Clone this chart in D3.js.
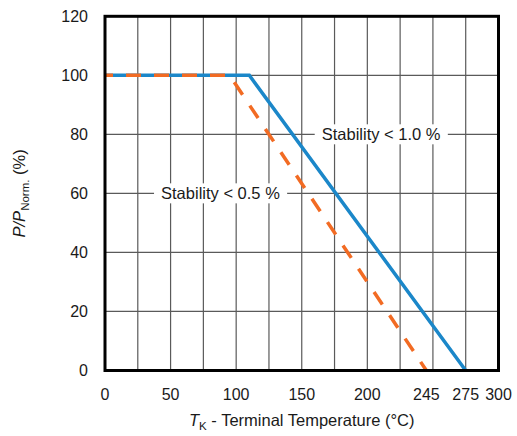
<!DOCTYPE html>
<html>
<head>
<meta charset="utf-8">
<script src="https://cdn.jsdelivr.net/npm/d3@7"></script>
<style>
  body { margin: 0; background: #fff; }
  svg text { font-family: "Liberation Sans", Arial, sans-serif; fill: #1a1a1a; }
</style>
</head>
<body>
<script>
// data
const tempTicks = [0, 50, 100, 150, 200, 245, 275, 300];
const powerTicks = [0, 20, 40, 60, 80, 100, 120];
const tempGrid = [25, 50, 75, 100, 125, 150, 175, 200, 225, 250, 275];
const powerGrid = [20, 40, 60, 80, 100];

const stab10 = [ {t: 0, p: 100}, {t: 110, p: 100}, {t: 275, p: 0} ];
const stab05 = [ {t: 0, p: 100}, {t: 95, p: 100}, {t: 245, p: 0} ];

function init() {
    var w = 517, h = 436;
    var left = 105, right = 498.5, top = 16.3, bottom = 370.5;

    var svg = d3.select("body").append("svg")
        .attr("width", w)
        .attr("height", h);

    var x = d3.scaleLinear().domain([0, 300]).range([left, right]);
    var y = d3.scaleLinear().domain([0, 120]).range([bottom, top]);

    // grid
    svg.append("g").selectAll("line")
        .data(tempGrid)
        .enter().append("line")
        .attr("x1", d => x(d)).attr("x2", d => x(d))
        .attr("y1", top).attr("y2", bottom)
        .attr("stroke", "#5a5a5a").attr("stroke-width", 1.2);

    svg.append("g").selectAll("line")
        .data(powerGrid)
        .enter().append("line")
        .attr("x1", left).attr("x2", right)
        .attr("y1", d => y(d)).attr("y2", d => y(d))
        .attr("stroke", "#5a5a5a").attr("stroke-width", 1.2);

    var line = d3.line().x(d => x(d.t)).y(d => y(d.p));

    svg.append("path")
        .datum(stab10)
        .attr("d", line)
        .attr("fill", "none")
        .attr("stroke", "#1b87c9")
        .attr("stroke-width", 3.5);

    svg.append("path")
        .datum(stab05)
        .attr("d", line)
        .attr("fill", "none")
        .attr("stroke", "#f26b23")
        .attr("stroke-width", 3.5)
        .attr("stroke-dasharray", "15,13")
        .attr("stroke-dashoffset", 7);

    // labels with white box
    function label(tx, py, txt) {
        var g = svg.append("g");
        var t = g.append("text")
            .attr("x", x(tx)).attr("y", y(py))
            .attr("dy", "0.36em")
            .attr("text-anchor", "middle")
            .style("font-size", "16.5px")
            .text(txt);
        var bb = t.node().getBBox();
        g.insert("rect", "text")
            .attr("x", bb.x - 7).attr("y", bb.y - 1)
            .attr("width", bb.width + 14).attr("height", bb.height + 2)
            .attr("fill", "#fff");
    }
    label(210.5, 80, "Stability < 1.0 %");
    label(88, 60, "Stability < 0.5 %");

    // frame
    svg.append("rect")
        .attr("x", left).attr("y", top)
        .attr("width", right - left).attr("height", bottom - top)
        .attr("fill", "none")
        .attr("stroke", "#000")
        .attr("stroke-width", 3);

    // tick labels
    svg.append("g").selectAll("text")
        .data(tempTicks)
        .enter().append("text")
        .attr("x", d => x(d))
        .attr("y", 400)
        .attr("text-anchor", "middle")
        .style("font-size", "16px")
        .text(d => d);

    svg.append("g").selectAll("text")
        .data(powerTicks)
        .enter().append("text")
        .attr("x", 88)
        .attr("y", d => y(d))
        .attr("dy", "0.36em")
        .attr("text-anchor", "end")
        .style("font-size", "16px")
        .text(d => d);

    // axis titles
    var xt = svg.append("text")
        .attr("x", (left + right) / 2)
        .attr("y", 426)
        .attr("text-anchor", "middle")
        .style("font-size", "16.5px");
    xt.append("tspan").style("font-style", "italic").text("T");
    xt.append("tspan").attr("dy", 4).style("font-size", "11.5px").text("K");
    xt.append("tspan").attr("dy", -4).text(" - Terminal Temperature (°C)");

    var yt = svg.append("text")
        .attr("transform", "translate(25," + ((top + bottom) / 2) + ") rotate(-90)")
        .attr("text-anchor", "middle")
        .style("font-size", "16.5px");
    yt.append("tspan").style("font-style", "italic").text("P/P");
    yt.append("tspan").attr("dy", 4).style("font-size", "11.5px").text("Norm.");
    yt.append("tspan").attr("dy", -4).text(" (%)");
}
window.onload = init;
</script>
</body>
</html>
